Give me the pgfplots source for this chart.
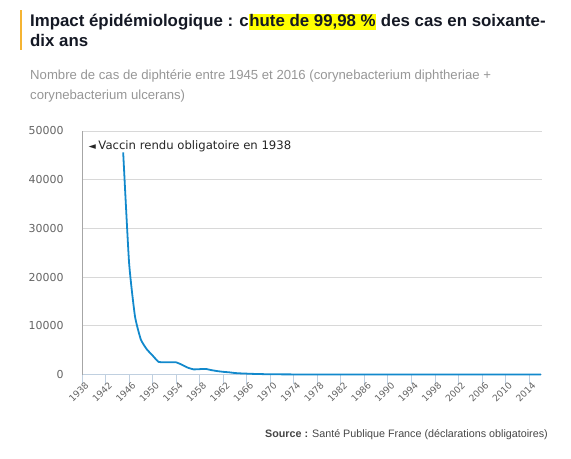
\documentclass[border=0pt]{standalone}
\usepackage{pgfplots}
\pgfplotsset{compat=1.18}
\usepackage{fontspec}
\setmainfont{Liberation Sans}
\newfontfamily\verd{DejaVu Sans}
\definecolor{titlecol}{RGB}{20,24,36}
\definecolor{subcol}{RGB}{150,150,150}
\definecolor{srccol}{RGB}{70,70,70}
\definecolor{barcol}{RGB}{245,180,50}
\definecolor{hilite}{RGB}{255,255,0}
\definecolor{linecol}{RGB}{18,137,204}
\definecolor{gridcol}{RGB}{216,216,216}
\definecolor{xaxcol}{RGB}{192,208,224}
\definecolor{ticklab}{RGB}{100,100,100}

\pgfplotstableread{
year cases
1945 45600
1946 23000
1947 12000
1948 7200
1949 5200
1950 3900
1951 2600
1952 2500
1953 2500
1954 2500
1955 2000
1956 1400
1957 1050
1958 1100
1959 1150
1960 900
1961 700
1962 550
1963 450
1964 300
1965 230
1966 180
1967 130
1968 100
1969 70
1970 50
1971 40
1972 30
1973 25
1974 20
1975 15
1976 12
1977 10
1978 8
1979 6
1980 5
1981 4
1982 3
1983 3
1984 2
1985 2
1986 1
1987 1
1988 1
1989 1
1990 1
1991 1
1992 0
1993 0
1994 1
1995 1
1996 1
1997 1
1998 1
1999 0
2000 1
2001 1
2002 2
2003 3
2004 2
2005 2
2006 3
2007 3
2008 3
2009 2
2010 2
2011 3
2012 6
2013 4
2014 3
2015 4
2016 6
}\diphtable

\begin{document}
\begin{tikzpicture}
\useasboundingbox (0,0) rectangle (571bp,-459bp);
% accent bar and title
\fill[barcol] (19.5bp,-10bp) rectangle (22bp,-50bp);
\node[anchor=base west, inner sep=0pt, text=titlecol, font=\fontsize{16.9}{19}\selectfont\bfseries]
  at (30bp,-26.5bp) {Impact épidémiologique : c{\setlength{\fboxsep}{0.6pt}\colorbox{hilite}{hute de 99,98 \%}} des cas en soixante-};
\node[anchor=base west, inner sep=0pt, text=titlecol, font=\fontsize{16.9}{19}\selectfont\bfseries]
  at (30bp,-46bp) {dix ans};
% subtitle
\node[anchor=base west, inner sep=0pt, text=subcol, font=\fontsize{13.2}{16}\selectfont]
  at (30bp,-79bp) {Nombre de cas de diphtérie entre 1945 et 2016 (corynebacterium diphtheriae +};
\node[anchor=base west, inner sep=0pt, text=subcol, font=\fontsize{13.2}{16}\selectfont]
  at (30bp,-99bp) {corynebacterium ulcerans)};
% source
\node[anchor=base east, inner sep=0pt, text=srccol, font=\fontsize{10.8}{12}\selectfont]
  at (548bp,-437bp) {\textbf{Source :} Santé Publique France (déclarations obligatoires)};

\begin{axis}[
  at={(82bp,-374.5bp)}, anchor=south west,
  scale only axis, width=460bp, height=243.5bp,
  xmin=1938, xmax=2016.2, ymin=0, ymax=50000,
  axis line style={draw=none},
  xtick={1938,1942,...,2014},
  ytick={0,10000,...,50000},
  xtick pos=lower, ytick pos=left,
  scaled y ticks=false,
  /pgf/number format/1000 sep={},
  /pgf/number format/assume math mode=true,
  xticklabel style={font=\verd\fontsize{9.2}{9.5}\selectfont, text=ticklab, rotate=45, anchor=north east, inner sep=0pt, xshift=3.5pt, yshift=0pt},
  yticklabel style={font=\verd\fontsize{11}{12}\selectfont, text=ticklab, xshift=-6pt},
  ymajorgrids, grid style={gridcol, line width=0.8pt},
  major y tick style={draw=none},
  major x tick style={xaxcol, line width=0.8pt},
  tick align=outside, major tick length=9bp,
  clip=false,
]
\draw[xaxcol, line width=1pt] (axis cs:1938,0) -- (axis cs:2016.2,0);
\draw[gray!70, line width=0.8pt] (axis cs:1938,0) -- (axis cs:1938,50000);
\addplot[linecol, line width=1.8pt, line join=round, smooth, tension=0.3, mark=none] table[x=year, y=cases] {\diphtable};
\node[anchor=base west, inner sep=0pt, font=\verd\fontsize{11.7}{12}\selectfont, text=black!85]
  at (axis cs:1939.1,46200) {{\fontsize{9.5}{10}\selectfont◄}\hspace{2.5pt}Vaccin rendu obligatoire en 1938};
\end{axis}
\end{tikzpicture}
\end{document}
